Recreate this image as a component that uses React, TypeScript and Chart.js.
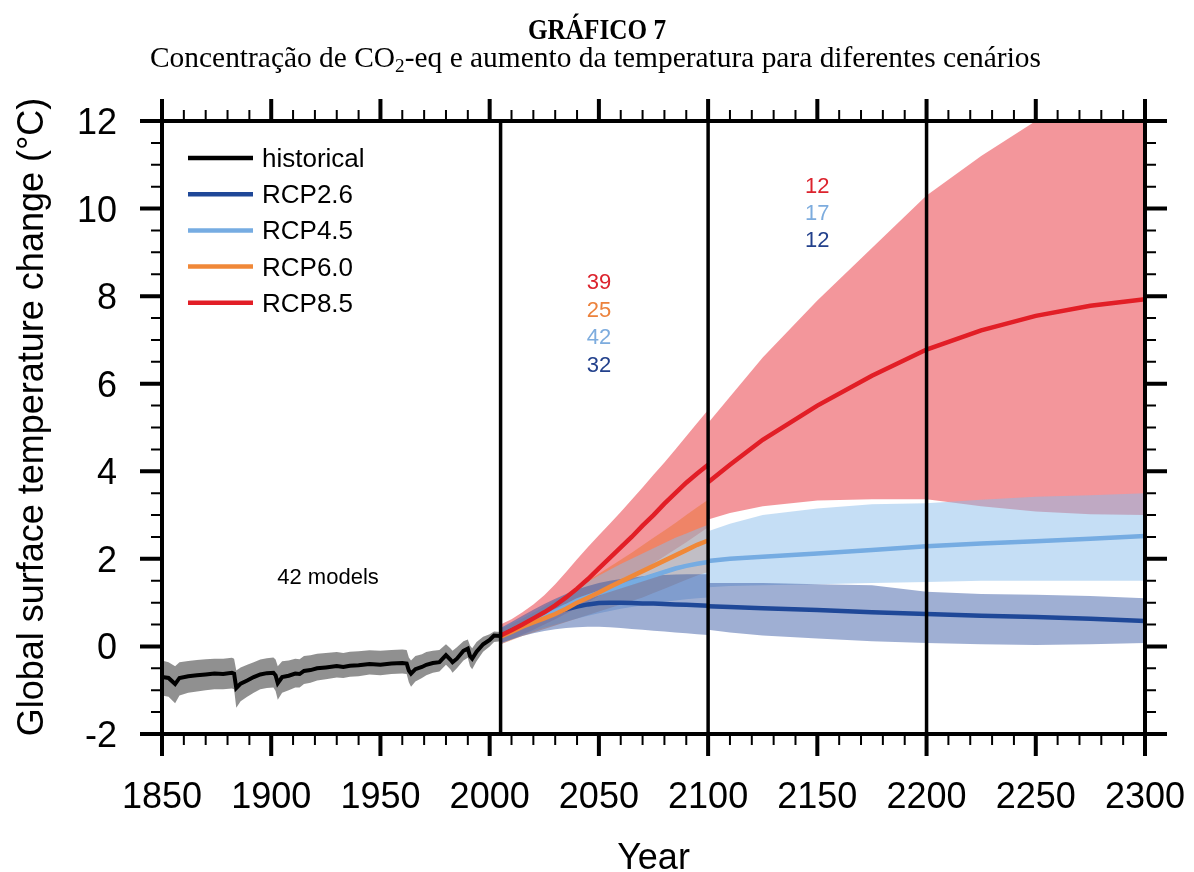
import React, { useEffect, useRef } from "react";
import { Chart, registerables } from "chart.js";

Chart.register(...registerables);

// ---------- Data ----------
const histYears = [1850, 1853, 1856, 1858, 1862, 1866, 1870, 1874, 1878, 1882, 1883, 1884, 1886, 1889, 1892, 1895, 1898, 1901, 1902, 1903, 1905, 1908, 1911, 1913, 1915, 1918, 1921, 1925, 1930, 1933, 1936, 1940, 1945, 1950, 1955, 1960, 1962, 1963, 1964, 1966, 1969, 1971, 1974, 1977, 1980, 1982, 1983, 1985, 1988, 1990, 1991, 1992, 1994, 1997, 2000, 2002, 2005];
const histMean = [-0.70, -0.72, -0.86, -0.72, -0.68, -0.66, -0.64, -0.62, -0.63, -0.60, -0.62, -0.95, -0.85, -0.78, -0.70, -0.64, -0.61, -0.60, -0.66, -0.84, -0.70, -0.67, -0.62, -0.63, -0.56, -0.54, -0.50, -0.48, -0.45, -0.47, -0.44, -0.43, -0.40, -0.42, -0.39, -0.38, -0.39, -0.55, -0.62, -0.52, -0.47, -0.42, -0.38, -0.36, -0.20, -0.30, -0.36, -0.28, -0.10, -0.05, -0.22, -0.28, -0.12, 0.05, 0.15, 0.25, 0.24];
const histUpper = [-0.32, -0.36, -0.45, -0.36, -0.33, -0.31, -0.29, -0.28, -0.28, -0.26, -0.28, -0.55, -0.48, -0.42, -0.36, -0.30, -0.27, -0.25, -0.30, -0.45, -0.34, -0.32, -0.28, -0.29, -0.22, -0.20, -0.17, -0.15, -0.13, -0.15, -0.12, -0.11, -0.09, -0.10, -0.08, -0.07, -0.08, -0.25, -0.32, -0.22, -0.18, -0.13, -0.10, -0.08, 0.05, -0.04, -0.10, -0.02, 0.12, 0.16, 0.02, -0.04, 0.10, 0.22, 0.28, 0.34, 0.33];
const histLower = [-1.12, -1.15, -1.30, -1.12, -1.06, -1.03, -1.00, -0.98, -0.98, -0.96, -0.98, -1.40, -1.25, -1.15, -1.06, -0.98, -0.95, -0.94, -1.02, -1.22, -1.06, -1.00, -0.94, -0.94, -0.86, -0.83, -0.78, -0.75, -0.71, -0.72, -0.69, -0.68, -0.64, -0.66, -0.63, -0.62, -0.63, -0.82, -0.92, -0.80, -0.72, -0.66, -0.60, -0.57, -0.42, -0.52, -0.60, -0.50, -0.32, -0.26, -0.45, -0.52, -0.34, -0.12, 0.00, 0.10, 0.12];

const projYears = [2005, 2010, 2015, 2020, 2025, 2030, 2035, 2040, 2045, 2050, 2055, 2060, 2065, 2070, 2075, 2080, 2085, 2090, 2095, 2100];
const rcp85Mean = [0.25, 0.37, 0.50, 0.64, 0.78, 0.94, 1.12, 1.32, 1.54, 1.78, 2.02, 2.26, 2.50, 2.76, 3.00, 3.26, 3.50, 3.74, 3.95, 4.15];
const rcp85Upper = [0.50, 0.62, 0.78, 0.96, 1.17, 1.42, 1.70, 1.99, 2.27, 2.54, 2.80, 3.07, 3.35, 3.63, 3.92, 4.20, 4.50, 4.80, 5.10, 5.40];
const rcp85Lower = [0.05, 0.16, 0.27, 0.38, 0.50, 0.62, 0.75, 0.88, 1.01, 1.15, 1.29, 1.44, 1.59, 1.74, 1.90, 2.06, 2.22, 2.38, 2.55, 2.72];
const rcp60Mean = [0.22, 0.33, 0.45, 0.55, 0.64, 0.74, 0.86, 1.00, 1.11, 1.23, 1.36, 1.48, 1.60, 1.72, 1.84, 1.96, 2.08, 2.20, 2.32, 2.42];
const rcp60Upper = [0.40, 0.52, 0.64, 0.77, 0.91, 1.05, 1.20, 1.35, 1.50, 1.66, 1.82, 1.98, 2.14, 2.31, 2.48, 2.65, 2.82, 3.00, 3.18, 3.35];
const rcp60Lower = [0.05, 0.14, 0.24, 0.32, 0.40, 0.48, 0.56, 0.64, 0.72, 0.80, 0.88, 0.96, 1.04, 1.12, 1.22, 1.32, 1.42, 1.52, 1.62, 1.70];
const rcp45Mean = [0.24, 0.35, 0.46, 0.57, 0.68, 0.80, 0.92, 1.05, 1.14, 1.22, 1.30, 1.38, 1.46, 1.54, 1.62, 1.70, 1.78, 1.84, 1.89, 1.93];
const rcp45Upper = [0.42, 0.54, 0.66, 0.79, 0.92, 1.06, 1.20, 1.34, 1.48, 1.62, 1.75, 1.88, 2.00, 2.12, 2.24, 2.36, 2.48, 2.58, 2.68, 2.78];
const rcp45Lower = [0.05, 0.16, 0.26, 0.35, 0.43, 0.50, 0.57, 0.64, 0.70, 0.76, 0.81, 0.86, 0.90, 0.94, 0.98, 1.02, 1.05, 1.08, 1.10, 1.12];
const rcp26Mean = [0.24, 0.36, 0.47, 0.58, 0.68, 0.77, 0.85, 0.91, 0.96, 0.99, 1.00, 1.00, 0.99, 0.98, 0.98, 0.97, 0.96, 0.95, 0.94, 0.93];
const rcp26Upper = [0.42, 0.56, 0.70, 0.84, 0.97, 1.09, 1.20, 1.30, 1.38, 1.45, 1.50, 1.54, 1.57, 1.60, 1.62, 1.63, 1.64, 1.65, 1.65, 1.65];
const rcp26Lower = [0.08, 0.16, 0.24, 0.30, 0.35, 0.39, 0.42, 0.44, 0.45, 0.45, 0.44, 0.42, 0.40, 0.38, 0.36, 0.34, 0.32, 0.30, 0.28, 0.26];

const extYears = [2100, 2110, 2125, 2150, 2175, 2200, 2225, 2250, 2275, 2300];
const rcp85ExtMean = [3.75, 4.15, 4.72, 5.50, 6.18, 6.78, 7.22, 7.55, 7.78, 7.93];
const rcp85ExtUpper = [5.10, 5.70, 6.60, 7.90, 9.10, 10.30, 11.20, 12.00, 12.60, 13.10];
const rcp85ExtLower = [2.90, 3.05, 3.20, 3.33, 3.36, 3.36, 3.20, 3.08, 3.02, 3.00];
const rcp45ExtMean = [1.95, 2.00, 2.05, 2.12, 2.20, 2.29, 2.35, 2.40, 2.46, 2.52];
const rcp45ExtUpper = [2.63, 2.80, 3.00, 3.15, 3.25, 3.27, 3.35, 3.42, 3.45, 3.50];
const rcp45ExtLower = [1.35, 1.38, 1.40, 1.42, 1.45, 1.47, 1.50, 1.50, 1.50, 1.50];
const rcp26ExtMean = [0.92, 0.90, 0.87, 0.83, 0.78, 0.74, 0.70, 0.67, 0.63, 0.58];
const rcp26ExtUpper = [1.45, 1.45, 1.45, 1.42, 1.40, 1.25, 1.20, 1.18, 1.15, 1.10];
const rcp26ExtLower = [0.38, 0.32, 0.25, 0.18, 0.12, 0.08, 0.05, 0.03, 0.05, 0.08];

const xTickLabels = [1850, 1900, 1950, 2000, 2050, 2100, 2150, 2200, 2250, 2300];
const yTickLabels = [-2, 0, 2, 4, 6, 8, 10, 12];
const dividerYears = [2005, 2100, 2200];

const legendLabels = ["historical", "RCP2.6", "RCP4.5", "RCP6.0", "RCP8.5"];
const countsMid = ["39", "25", "42", "32"];
const countsMidYear = 2050;
const countsMidValues = [8.35, 7.7, 7.09, 6.45];
const countsLate = ["12", "17", "12"];
const countsLateYear = 2150;
const countsLateValues = [10.54, 9.92, 9.3];
const modelsNote = "42 models";
const modelsNoteYear = 1926;
const modelsNoteValue = 1.6;

const TITLE = "GRÁFICO 7";
const SUB_A = "Concentração de CO";
const SUB_SUB = "2";
const SUB_B = "-eq e aumento da temperatura para diferentes cenários";
const Y_TITLE = "Global surface temperature change (°C)";
const X_TITLE = "Year";

// ---------- Styles ----------
const C_HIST = "#000000";
const C_26 = "rgb(31,72,152)";
const C_45 = "rgb(118,172,226)";
const C_60 = "rgb(240,136,56)";
const C_85 = "rgb(226,30,38)";
const legendColors = [C_HIST, C_26, C_45, C_60, C_85];
const countsMidColors = ["rgb(220,35,45)", "rgb(236,130,60)", "rgb(125,172,222)", "rgb(35,65,140)"];
const countsLateColors = ["rgb(220,35,45)", "rgb(125,172,222)", "rgb(35,65,140)"];

const B_HIST = "rgba(125,125,125,0.85)";
const B_85 = "rgba(232,45,55,0.5)";
const B_60 = "rgba(235,110,40,0.45)";
const B_45 = "rgba(140,190,235,0.5)";
const B_26 = "rgba(45,80,160,0.46)";

const SANS = '"Liberation Sans", Arial, Helvetica, sans-serif';
const SERIF = '"Liberation Serif", "Times New Roman", serif';

function pts(xs: number[], ys: number[]) {
  return xs.map((x, i) => ({ x, y: ys[i] }));
}

function lineDs(label: string, xs: number[], ys: number[], color: string, width: number) {
  return {
    label,
    data: pts(xs, ys),
    borderColor: color,
    backgroundColor: color,
    borderWidth: width,
    pointRadius: 0,
    fill: false,
    tension: 0,
  };
}

function bandDs(label: string, xs: number[], lo: number[], hi: number[], color: string) {
  return [
    {
      label: label + " lower",
      data: pts(xs, lo),
      borderColor: "rgba(0,0,0,0)",
      borderWidth: 0,
      pointRadius: 0,
      fill: false,
    },
    {
      label: label + " upper",
      data: pts(xs, hi),
      borderColor: "rgba(0,0,0,0)",
      borderWidth: 0,
      pointRadius: 0,
      fill: "-1",
      backgroundColor: color,
    },
  ];
}

const decor = {
  id: "decor",
  afterDatasetsDraw(chart: any) {
    const { ctx, chartArea: a, scales } = chart;
    const xs = scales.x;
    const ys = scales.y;
    ctx.save();
    ctx.strokeStyle = "#000";
    ctx.lineCap = "butt";

    // divider lines
    ctx.lineWidth = 3.5;
    for (const yr of dividerYears) {
      const px = xs.getPixelForValue(yr);
      ctx.beginPath();
      ctx.moveTo(px, a.top);
      ctx.lineTo(px, a.bottom);
      ctx.stroke();
    }

    // x ticks (major every 50, minor every 10)
    for (let v = xs.min; v <= xs.max; v += 10) {
      const px = xs.getPixelForValue(v);
      const major = v % 50 === 0;
      const len = major ? 22 : 11;
      ctx.lineWidth = major ? 4 : 2;
      ctx.beginPath();
      ctx.moveTo(px, a.bottom);
      ctx.lineTo(px, a.bottom + len);
      ctx.moveTo(px, a.top);
      ctx.lineTo(px, a.top - len);
      ctx.stroke();
    }
    // y ticks (major every 2, minor every 0.5)
    for (let i = 0; i <= (ys.max - ys.min) * 2; i++) {
      const v = ys.min + i * 0.5;
      const py = ys.getPixelForValue(v);
      const major = i % 4 === 0;
      const len = major ? 22 : 11;
      ctx.lineWidth = major ? 4 : 2;
      ctx.beginPath();
      ctx.moveTo(a.left, py);
      ctx.lineTo(a.left - len, py);
      ctx.moveTo(a.right, py);
      ctx.lineTo(a.right + len, py);
      ctx.stroke();
    }

    // frame
    ctx.lineWidth = 4;
    ctx.strokeRect(a.left, a.top, a.right - a.left, a.bottom - a.top);

    // tick labels
    ctx.fillStyle = "#000";
    ctx.font = "36px " + SANS;
    ctx.textBaseline = "alphabetic";
    ctx.textAlign = "center";
    for (const v of xTickLabels) ctx.fillText(String(v), xs.getPixelForValue(v), a.bottom + 74);
    ctx.textAlign = "right";
    for (const v of yTickLabels) ctx.fillText(String(v), a.left - 45, ys.getPixelForValue(v) + 13);

    // axis titles
    ctx.textAlign = "center";
    ctx.fillText(X_TITLE, (a.left + a.right) / 2, 869);
    ctx.save();
    ctx.translate(43, 417);
    ctx.rotate(-Math.PI / 2);
    ctx.font = "36px " + SANS;
    const yw = ctx.measureText(Y_TITLE).width;
    ctx.scale(Math.min(1, 640 / yw), 1);
    ctx.fillText(Y_TITLE, 0, 0);
    ctx.restore();

    // legend
    ctx.font = "26px " + SANS;
    ctx.textAlign = "left";
    legendLabels.forEach((lab, i) => {
      const ly = a.top + 37 + i * 36.2;
      ctx.strokeStyle = legendColors[i];
      ctx.lineWidth = 4.5;
      ctx.beginPath();
      ctx.moveTo(a.left + 26, ly);
      ctx.lineTo(a.left + 91, ly);
      ctx.stroke();
      ctx.fillStyle = "#000";
      ctx.fillText(lab, a.left + 100, ly + 9);
    });

    // model counts
    ctx.font = "22px " + SANS;
    ctx.textAlign = "center";
    countsMid.forEach((t, i) => {
      ctx.fillStyle = countsMidColors[i];
      ctx.fillText(t, xs.getPixelForValue(countsMidYear), ys.getPixelForValue(countsMidValues[i]) + 8);
    });
    countsLate.forEach((t, i) => {
      ctx.fillStyle = countsLateColors[i];
      ctx.fillText(t, xs.getPixelForValue(countsLateYear), ys.getPixelForValue(countsLateValues[i]) + 8);
    });
    ctx.fillStyle = "#000";
    ctx.fillText(modelsNote, xs.getPixelForValue(modelsNoteYear), ys.getPixelForValue(modelsNoteValue) + 8);

    // title
    ctx.fillStyle = "#000";
    ctx.font = "bold 30px " + SERIF;
    ctx.textAlign = "center";
    const tw = ctx.measureText(TITLE).width;
    ctx.save();
    ctx.translate(597, 39);
    ctx.scale(138 / tw, 1);
    ctx.fillText(TITLE, 0, 0);
    ctx.restore();

    // subtitle with subscript
    ctx.textAlign = "left";
    ctx.font = "29px " + SERIF;
    const w1 = ctx.measureText(SUB_A).width;
    const w3 = ctx.measureText(SUB_B).width;
    ctx.font = "19px " + SERIF;
    const w2 = ctx.measureText(SUB_SUB).width;
    const total = w1 + w2 + w3;
    const sx = 891 / total;
    ctx.save();
    ctx.translate(150, 67);
    ctx.scale(sx, 1);
    ctx.font = "29px " + SERIF;
    ctx.fillText(SUB_A, 0, 0);
    ctx.font = "19px " + SERIF;
    ctx.fillText(SUB_SUB, w1, 5);
    ctx.font = "29px " + SERIF;
    ctx.fillText(SUB_B, w1 + w2, 0);
    ctx.restore();

    ctx.restore();
  },
};

export default function App() {
  const ref = useRef<HTMLCanvasElement | null>(null);
  useEffect(() => {
    if (!ref.current) return;
    const datasets: any[] = [
      lineDs("RCP8.5", projYears, rcp85Mean, C_85, 4.5),
      lineDs("RCP8.5 ext", extYears, rcp85ExtMean, C_85, 4.5),
      lineDs("RCP6.0", projYears, rcp60Mean, C_60, 4.5),
      lineDs("RCP4.5", projYears, rcp45Mean, C_45, 4.5),
      lineDs("RCP4.5 ext", extYears, rcp45ExtMean, C_45, 4.5),
      lineDs("RCP2.6", projYears, rcp26Mean, C_26, 4.5),
      lineDs("RCP2.6 ext", extYears, rcp26ExtMean, C_26, 4.5),
      lineDs("historical", histYears, histMean, C_HIST, 4),
      ...bandDs("RCP2.6 range", projYears, rcp26Lower, rcp26Upper, B_26),
      ...bandDs("RCP2.6 ext range", extYears, rcp26ExtLower, rcp26ExtUpper, B_26),
      ...bandDs("RCP4.5 range", projYears, rcp45Lower, rcp45Upper, B_45),
      ...bandDs("RCP4.5 ext range", extYears, rcp45ExtLower, rcp45ExtUpper, B_45),
      ...bandDs("RCP6.0 range", projYears, rcp60Lower, rcp60Upper, B_60),
      ...bandDs("RCP8.5 range", projYears, rcp85Lower, rcp85Upper, B_85),
      ...bandDs("RCP8.5 ext range", extYears, rcp85ExtLower, rcp85ExtUpper, B_85),
      ...bandDs("historical range", histYears, histLower, histUpper, B_HIST),
    ];
    const chart = new Chart(ref.current, {
      type: "line",
      data: { datasets },
      options: {
        animation: false,
        responsive: false,
        maintainAspectRatio: false,
        devicePixelRatio: 1,
        events: [],
        layout: { padding: { left: 162, right: 49, top: 121, bottom: 138 } },
        scales: {
          x: { type: "linear", min: 1850, max: 2300, display: false },
          y: { type: "linear", min: -2, max: 12, display: false },
        },
        plugins: {
          legend: { display: false },
          tooltip: { enabled: false },
          title: { display: false },
          filler: { drawTime: "beforeDatasetsDraw", propagate: false },
        },
      } as any,
      plugins: [decor],
    });
    return () => chart.destroy();
  }, []);
  return (
    <div style={{ position: "absolute", left: 0, top: 0, width: 1194, height: 872, background: "#fff" }}>
      <canvas ref={ref} width={1194} height={872} style={{ display: "block" }} />
    </div>
  );
}
